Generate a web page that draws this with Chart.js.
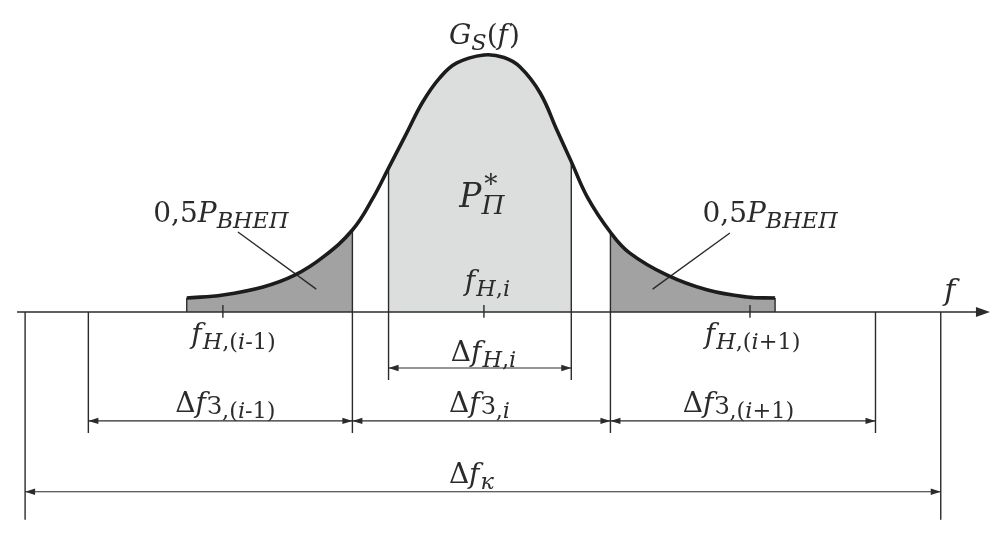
<!DOCTYPE html>
<html lang="ru">
<head>
<meta charset="UTF-8" />
<title>Спектр сигнала G_S(f)</title>
<script src="https://cdn.jsdelivr.net/npm/chart.js"></script>
<style>
  html, body { margin: 0; padding: 0; background: #fff; }
  #wrap { width: 1004px; height: 545px; position: relative; }
</style>
</head>
<body>
<div id="wrap"><canvas id="chart"></canvas></div>
<script>
  // spectrum curve: f in arbitrary units, G in % of the peak
  const curveF = [18.6, 22.2, 26.2, 29.4, 32.2, 35.1, 37.1, 38.7, 40.5, 42.1, 43.8, 45.5, 48.2,
                  50.2, 51.8, 53.8, 55.5, 56.9, 58.5, 60.8, 62.7, 66.4, 70.4, 74.4, 77.2];
  const curveG = [5.4, 6.6, 9.7, 14.4, 21.4, 31.9, 44.0, 56.0, 69.6, 81.7, 91.1, 96.9, 100,
                  99.0, 95.3, 85.2, 70.5, 58.5, 44.7, 31.0, 23.0, 14.4, 8.6, 5.8, 5.4];

  // bands and marks on the f axis
  const leftTail = [18.6, 35.1];
  const passBand = [38.7, 56.9];
  const rightTail = [60.8, 77.2];
  const nominalF = [22.2, 48.2, 74.7];
  const guardEdges = [8.8, 35.1, 60.8, 87.2];
  const channelEdges = [2.5, 93.7];

  // label texts: [text, style]  i = italic, r = roman, si/sr = subscript, z = small lowered З, pn = superscript without advance
  const labelRuns = [
    [['G', 'i'], ['S', 'si'], ['(', 'r'], ['f', 'i'], [')', 'r']],
    [['0,5', 'r'], ['P', 'i'], ['ВНЕП', 'si']],
    [['0,5', 'r'], ['P', 'i'], ['ВНЕП', 'si']],
    [['P', 'i'], ['*', 'pn'], ['П', 'si']],
    [['f', 'i'], ['Н', 'si'], [',', 'sr'], ['i', 'si']],
    [['f', 'i'], ['Н', 'si'], [',(', 'sr'], ['i', 'si'], ['-1)', 'sr']],
    [['f', 'i'], ['Н', 'si'], [',(', 'sr'], ['i', 'si'], ['+1)', 'sr']],
    [['Δ', 'r'], ['f', 'i'], ['Н', 'si'], [',', 'sr'], ['i', 'si']],
    [['Δ', 'r'], ['f', 'i'], ['З', 'z'], [',(', 'sr'], ['i', 'si'], ['-1)', 'sr']],
    [['Δ', 'r'], ['f', 'i'], ['З', 'z'], [',', 'sr'], ['i', 'si']],
    [['Δ', 'r'], ['f', 'i'], ['З', 'z'], [',(', 'sr'], ['i', 'si'], ['+1)', 'sr']],
    [['Δ', 'r'], ['f', 'i'], ['к', 'si']],
    [['f', 'i']]
  ];

  // layout (data units): label centre x, baseline y, font size
  const labelPos = [
    [48.2, 104.3, 28], [22.0, 35.0, 28], [76.7, 35.0, 28], [48.0, 40.9, 33],
    [48.5, 8.6, 28], [23.2, -12.1, 28], [74.9, -12.1, 28], [48.1, -19.1, 28],
    [22.4, -38.9, 28], [47.7, -38.9, 28], [73.5, -38.9, 28], [46.9, -66.5, 28], [94.6, 4.7, 30]
  ];
  const dimPass = -21.8, passEnd = -26.5;
  const dimGuard = -42.4, guardEnd = -47.1;
  const dimChan = -70.0, chanEnd = -80.9;
  const axisFrom = 1.7, axisTip = 98.6;
  const leaders = [[[23.7, 31.1], [31.5, 8.9]], [[72.7, 30.7], [65.0, 8.9]]];

  const INK = '#2b2b2b';
  const FONT = '"DejaVu Serif", serif';

  const gAt = f => curveG[curveF.indexOf(f)];
  const curvePts = curveF.map((f, i) => ({ x: f, y: curveG[i] }));
  const bandPts = b => curvePts.filter(p => p.x >= b[0] && p.x <= b[1]);

  const segs = [];
  const seg = (x1, y1, x2, y2) => segs.push({ x: x1, y: y1 }, { x: x2, y: y2 }, { x: x2, y: null });
  seg(leftTail[0], gAt(leftTail[0]), leftTail[0], 0);
  seg(rightTail[1], gAt(rightTail[1]), rightTail[1], 0);
  seg(leftTail[1], gAt(leftTail[1]), leftTail[1], guardEnd);
  seg(rightTail[0], gAt(rightTail[0]), rightTail[0], guardEnd);
  passBand.forEach(f => seg(f, gAt(f), f, passEnd));
  seg(guardEdges[0], 0, guardEdges[0], guardEnd);
  seg(guardEdges[3], 0, guardEdges[3], guardEnd);
  channelEdges.forEach(f => seg(f, 0, f, chanEnd));
  nominalF.forEach(f => seg(f, 2.7, f, -2.3));
  leaders.forEach(l => seg(l[0][0], l[0][1], l[1][0], l[1][1]));

  // dimension lines with arrows at both ends
  const dims = [[passBand[0], passBand[1], dimPass], [channelEdges[0], channelEdges[1], dimChan]];
  for (let i = 0; i < guardEdges.length - 1; i++) dims.push([guardEdges[i], guardEdges[i + 1], dimGuard]);
  const dimSegs = [];
  dims.forEach(d => dimSegs.push({ x: d[0], y: d[2] }, { x: d[1], y: d[2] }, { x: d[1], y: null }));

  function runFont(style, size) {
    const s = style === 'z' ? size * 0.86 : (style[0] === 's' || style[0] === 'p') ? size * 0.8 : size;
    const it = style.endsWith('i') ? 'italic ' : '';
    return it + s.toFixed(1) + 'px ' + FONT;
  }
  function runShift(style, size) {
    if (style === 'z') return size * 0.07;
    if (style[0] === 's') return size * 0.22;
    if (style[0] === 'p') return -size * 0.42;
    return 0;
  }
  function drawRuns(ctx, runs, cx, by, size) {
    let w = 0;
    runs.forEach(r => { ctx.font = runFont(r[1], size); if (r[1] !== 'pn') w += ctx.measureText(r[0]).width; });
    let x = cx - w / 2;
    runs.forEach(r => {
      ctx.font = runFont(r[1], size);
      ctx.fillText(r[0], x + (r[1] === 'pn' ? size * 0.08 : 0), by + runShift(r[1], size));
      if (r[1] !== 'pn') x += ctx.measureText(r[0]).width + (r[1] === 'i' && r[0] === 'f' ? size * 0.04 : 0);
    });
  }
  function arrow(ctx, x, y, dir, len, half) {
    ctx.beginPath();
    ctx.moveTo(x, y);
    ctx.lineTo(x - dir * len, y - half);
    ctx.lineTo(x - dir * len, y + half);
    ctx.closePath();
    ctx.fill();
  }

  const decor = {
    id: 'decor',
    afterDatasetsDraw(chart) {
      const { ctx, scales: { x, y } } = chart;
      ctx.save();
      ctx.fillStyle = INK;
      dims.forEach(d => {
        const py = y.getPixelForValue(d[2]);
        arrow(ctx, x.getPixelForValue(d[0]), py, -1, 10, 3.2);
        arrow(ctx, x.getPixelForValue(d[1]), py, 1, 10, 3.2);
      });
      arrow(ctx, x.getPixelForValue(axisTip), y.getPixelForValue(0), 1, 14, 5);
      ctx.textBaseline = 'alphabetic';
      labelRuns.forEach((runs, i) => {
        const p = labelPos[i];
        drawRuns(ctx, runs, x.getPixelForValue(p[0]), y.getPixelForValue(p[1]), p[2]);
      });
      ctx.restore();
    }
  };

  const line = (data, extra) => Object.assign({
    data, pointRadius: 0, borderColor: INK, borderWidth: 1.4, tension: 0, fill: false, spanGaps: false
  }, extra);

  new Chart(document.getElementById('chart'), {
    type: 'line',
    data: {
      datasets: [
        line(curvePts, { label: 'G_S(f)', borderColor: '#1c1c1c', borderWidth: 3.6, tension: 0.4, order: 1 }),
        line(segs, { label: 'edges', order: 2 }),
        line(dimSegs, { label: 'dims', borderWidth: 1.1, order: 2 }),
        line([{ x: axisFrom, y: 0 }, { x: axisTip - 1.2, y: 0 }], { label: 'f', borderWidth: 1.6, order: 2 }),
        line(bandPts(leftTail), { label: '0,5P left', borderWidth: 0, fill: 'origin', backgroundColor: '#a2a2a2',
                                  tension: 0.4, order: 3 }),
        line(bandPts(passBand), { label: 'P*', borderWidth: 0, fill: 'origin', backgroundColor: '#dcdddd',
                                  tension: 0.4, order: 3 }),
        line(bandPts(rightTail), { label: '0,5P right', borderWidth: 0, fill: 'origin', backgroundColor: '#a2a2a2',
                                   tension: 0.4, order: 3 })
      ]
    },
    options: {
      responsive: true,
      maintainAspectRatio: false,
      animation: false,
      layout: { padding: 0 },
      scales: {
        x: { type: 'linear', min: 0, max: 100, display: false },
        y: { type: 'linear', min: -90.7, max: 121.4, display: false }
      },
      plugins: { legend: { display: false }, tooltip: { enabled: false } }
    },
    plugins: [decor]
  });
</script>
</body>
</html>
